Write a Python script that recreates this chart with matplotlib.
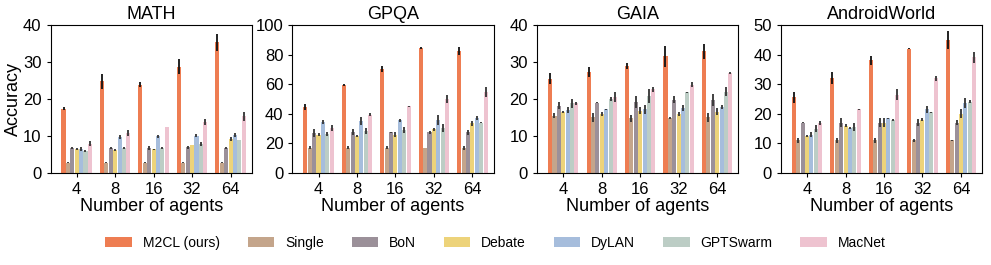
import numpy as np
import matplotlib
matplotlib.use("Agg")
import matplotlib.pyplot as plt
from matplotlib.patches import Patch

plt.rcParams['font.family'] = ['Liberation Sans', 'DejaVu Sans']

agents = ["4", "8", "16", "32", "64"]
methods = ["M2CL (ours)", "Single", "BoN", "Debate", "DyLAN", "GPTSwarm", "MacNet"]
colors = ["#EE7D52", "#C4A58B", "#9B9099", "#EDD37A", "#A6BDDC", "#BCCDC5", "#EEC3D0"]

# rows = methods, cols = number of agents
math_mean = [[17.4, 24.8, 23.9, 28.7, 35.3],
             [2.8, 2.8, 2.8, 2.8, 2.8],
             [6.8, 6.8, 6.8, 6.9, 6.8],
             [6.5, 6.2, 6.4, 7.6, 9.2],
             [6.5, 9.7, 9.9, 10.1, 10.3],
             [5.9, 6.8, 6.8, 7.9, 8.9],
             [7.9, 10.9, 12.4, 13.9, 15.3]]
math_err = [[0.5, 2.0, 0.7, 2.0, 2.3],
            [0.1, 0.1, 0.1, 0.1, 0.1],
            [0.3, 0.2, 0.5, 0.5, 0.2],
            [0.2, 0.3, 0.2, 0.1, 0.6],
            [0.6, 0.5, 0.5, 0.5, 0.6],
            [0.3, 0.2, 0.2, 0.5, 0.1],
            [0.7, 0.8, 0.1, 0.8, 1.3]]

gpqa_mean = [[44.5, 59.5, 70.0, 84.5, 82.5],
             [17.0, 17.0, 17.0, 17.0, 17.0],
             [27.0, 27.5, 27.5, 27.5, 27.5],
             [26.0, 25.0, 26.0, 29.5, 33.5],
             [34.5, 35.0, 35.5, 36.0, 37.0],
             [26.5, 28.5, 29.0, 30.5, 34.0],
             [30.5, 39.5, 45.0, 50.0, 54.5]]
gpqa_err = [[2.0, 0.7, 2.0, 0.7, 2.5],
            [1.0, 1.0, 1.0, 0.1, 1.5],
            [2.5, 2.0, 0.5, 1.0, 1.5],
            [1.0, 1.0, 1.5, 1.0, 1.5],
            [1.5, 2.5, 1.0, 3.5, 1.5],
            [1.5, 2.0, 2.0, 2.5, 0.2],
            [2.0, 1.0, 0.3, 3.0, 3.5]]

gaia_mean = [[25.5, 27.2, 29.0, 31.5, 32.9],
             [15.5, 15.0, 14.8, 14.8, 15.0],
             [18.2, 19.0, 19.2, 19.8, 19.8],
             [16.5, 16.0, 16.8, 16.0, 16.6],
             [17.0, 17.2, 17.2, 17.6, 17.8],
             [18.8, 20.0, 20.8, 21.8, 22.0],
             [18.8, 20.5, 22.6, 23.8, 27.0]]
gaia_err = [[1.5, 1.4, 0.8, 2.8, 2.0],
            [0.7, 1.3, 0.9, 0.3, 1.1],
            [0.9, 0.2, 1.7, 0.9, 1.6],
            [0.3, 0.6, 0.9, 0.6, 0.9],
            [0.9, 0.2, 1.2, 0.9, 0.5],
            [1.2, 0.6, 1.8, 0.2, 1.2],
            [0.5, 1.3, 0.6, 0.7, 0.3]]

aw_mean = [[25.5, 32.0, 38.0, 42.0, 45.0],
           [11.0, 11.0, 11.0, 11.0, 11.0],
           [17.0, 17.0, 17.0, 17.0, 17.0],
           [12.5, 16.0, 17.0, 18.0, 20.0],
           [13.0, 15.2, 18.5, 21.5, 23.5],
           [15.0, 15.5, 18.0, 20.5, 24.0],
           [17.0, 21.5, 26.5, 32.0, 39.0]]
aw_err = [[1.8, 2.0, 1.5, 0.1, 3.0],
          [0.8, 0.8, 0.7, 0.5, 0.3],
          [0.2, 1.5, 1.5, 1.2, 0.8],
          [0.2, 0.5, 1.5, 0.5, 1.5],
          [0.7, 0.2, 0.2, 1.2, 1.7],
          [1.2, 1.3, 0.3, 0.2, 0.5],
          [0.7, 0.2, 2.0, 0.8, 2.0]]

panels = [("MATH", math_mean, math_err, 40, 10),
          ("GPQA", gpqa_mean, gpqa_err, 100, 20),
          ("GAIA", gaia_mean, gaia_err, 40, 10),
          ("AndroidWorld", aw_mean, aw_err, 50, 10)]

fig = plt.figure(figsize=(9.91, 2.65), dpi=100)
lefts = [0.051, 0.295, 0.542, 0.788]
width = 0.203
x = np.arange(len(agents))
n = len(methods)
bw = 0.8 / n

for left, (title, mean, err, ymax, step) in zip(lefts, panels):
    ax = fig.add_axes([left, 0.347, width, 0.559])
    for i, m in enumerate(methods):
        ecol = "#111111" if i == 0 else "#333333"
        ax.bar(x - 0.4 + bw * (i + 0.5), mean[i], width=bw * 0.92,
               color=colors[i], yerr=err[i], ecolor=ecol,
               error_kw=dict(elinewidth=1.3, capsize=0), zorder=2)
    ax.set_xticks(x)
    ax.set_xticklabels(agents)
    ax.set_xlim(-0.68, 4.55)
    ax.set_ylim(0, ymax)
    ax.set_yticks(np.arange(0, ymax + 1, step))
    ax.tick_params(axis="both", labelsize=12, length=3)
    ax.set_title(title, fontsize=13, pad=4)
    ax.set_xlabel("Number of agents", fontsize=13, labelpad=1)
    if title == "MATH":
        ax.set_ylabel("Accuracy", fontsize=13, labelpad=1)

handles = [Patch(facecolor=c, label=m) for m, c in zip(methods, colors)]
fig.legend(handles=handles, loc="center", bbox_to_anchor=(0.5, 0.083), ncol=7,
           frameon=False, fontsize=10, handlelength=1.9, handleheight=0.8,
           columnspacing=2.0, handletextpad=0.8)

fig.savefig("out.png", dpi=100)
